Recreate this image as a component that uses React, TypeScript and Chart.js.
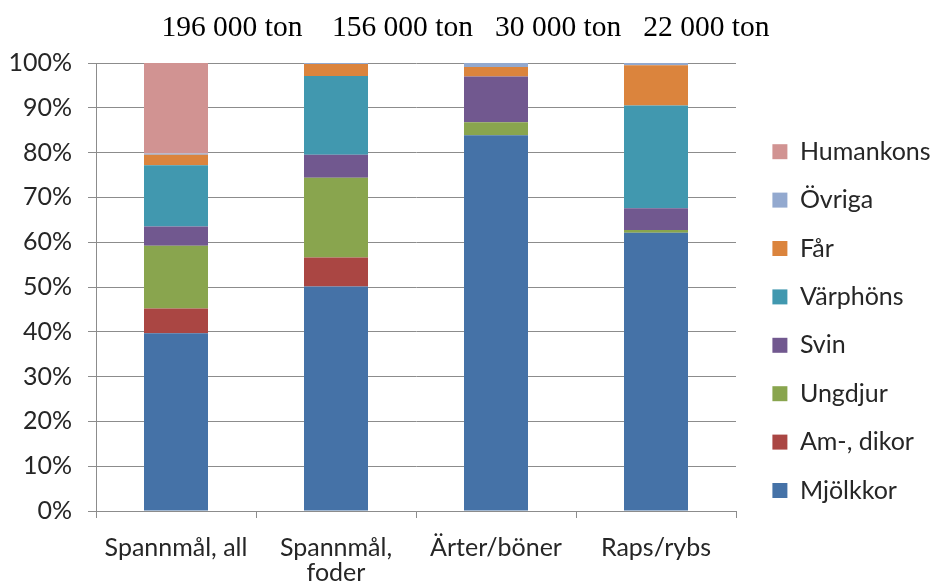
import React, { useEffect, useRef } from "react";
import { Chart, registerables } from "chart.js";

Chart.register(...registerables);

const categories: (string | string[])[] = ["Spannmål, all", ["Spannmål,", "foder"], "Ärter/böner", "Raps/rybs"];
const titleText = "196 000 ton    156 000 ton   30 000 ton   22 000 ton";

const mjolkkor = [39.7, 50.1, 83.9, 62.1];
const amDikor = [5.5, 6.5, 0, 0];
const ungdjur = [14.0, 17.8, 2.9, 0.6];
const svin = [4.3, 5.1, 10.2, 4.9];
const varphons = [13.7, 17.6, 0, 22.9];
const far = [2.3, 2.7, 2.1, 9.0];
const ovriga = [0.3, 0.2, 0.9, 0.5];
const humankons = [20.2, 0, 0, 0];

const yTicks = [0, 10, 20, 30, 40, 50, 60, 70, 80, 90, 100];

const seriesNames = ["Mjölkkor", "Am-, dikor", "Ungdjur", "Svin", "Värphöns", "Får", "Övriga", "Humankons"];
const seriesData = [mjolkkor, amDikor, ungdjur, svin, varphons, far, ovriga, humankons];
const seriesColors = ["#4572A7", "#AA4643", "#89A54E", "#71588F", "#4198AF", "#DB843D", "#93A9CF", "#D19392"];

const GRID = "#8c8c8c";
const TEXT = "#262626";
const FONT = "Lato";

export default function App() {
  const ref = useRef<HTMLCanvasElement | null>(null);
  useEffect(() => {
    if (!ref.current) return;
    const chart = new Chart(ref.current, {
      type: "bar",
      data: {
        labels: categories,
        datasets: seriesNames.map((n, i) => ({
          label: n,
          data: seriesData[i],
          backgroundColor: seriesColors[i],
          borderWidth: 0,
          barPercentage: 0.4,
          categoryPercentage: 1,
          yAxisID: "y",
        })),
      },
      options: {
        animation: false,
        responsive: true,
        maintainAspectRatio: false,
        layout: { padding: 0 },
        plugins: {
          tooltip: { enabled: false },
          title: {
            display: true,
            text: titleText,
            color: "#000",
            font: { family: "Liberation Serif", size: 29.5, weight: "normal", lineHeight: 1.2 },
            padding: { top: 11, bottom: 16.6 },
          },
          legend: {
            position: "right",
            reverse: true,
            maxWidth: 182,
            title: { display: true, text: "", font: { size: 1 }, padding: { top: 28, bottom: 28 } },
            labels: {
              boxWidth: 15,
              boxHeight: 15,
              padding: 23.4,
              color: TEXT,
              font: { family: FONT, size: 25 },
            },
          },
        },
        scales: {
          x: {
            stacked: true,
            grid: { display: true, drawOnChartArea: false, drawTicks: true, tickLength: 7, color: GRID, offset: true },
            border: { display: true, color: GRID },
            ticks: { color: TEXT, font: { family: FONT, size: 25, lineHeight: 1.0 }, padding: 17, maxRotation: 0, autoSkip: false },
            afterFit: (s: any) => { s.height = 74; },
          },
          y: {
            stacked: true,
            min: 0,
            max: 100,
            afterBuildTicks: (s: any) => { s.ticks = yTicks.map((v) => ({ value: v })); },
            grid: { color: GRID, tickLength: 8 },
            border: { display: true, color: GRID },
            ticks: {
              color: TEXT,
              font: { family: FONT, size: 25 },
              padding: 16,
              callback: (v: any) => `${v}%`,
            },
            afterFit: (s: any) => { s.width = 96; },
          },
          yR: {
            type: "linear",
            position: "right",
            display: true,
            grid: { display: false, drawTicks: false },
            border: { display: false },
            ticks: { display: false },
            afterFit: (s: any) => { s.width = 13; },
          },
        },
      },
    });
    return () => chart.destroy();
  }, []);
  return (
    <div style={{ position: "fixed", left: 0, top: 0, width: 931, height: 585, background: "#fff" }}>
      <canvas ref={ref} />
    </div>
  );
}
